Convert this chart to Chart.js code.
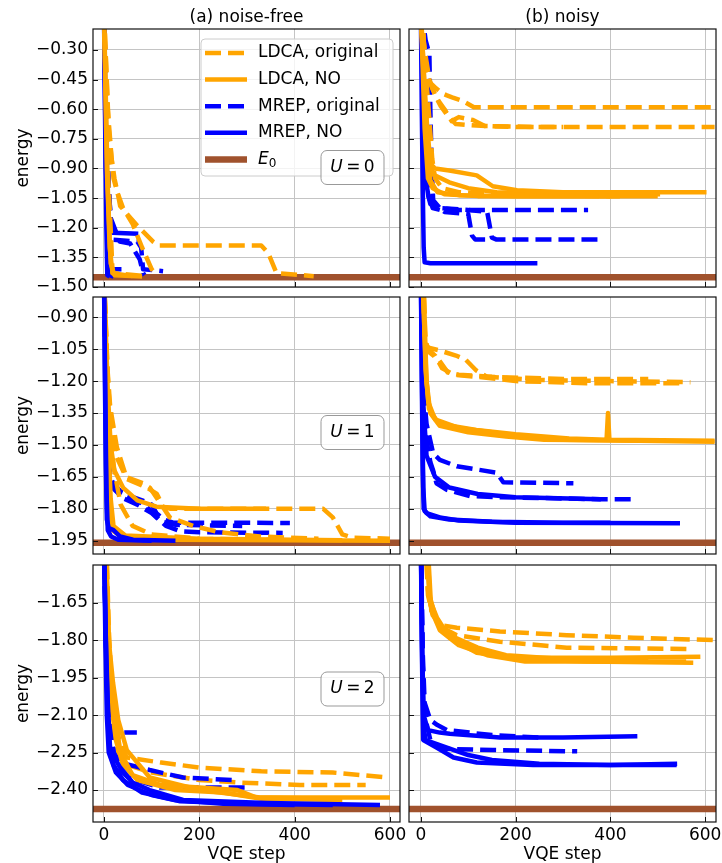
<!DOCTYPE html>
<html>
<head>
<meta charset="utf-8">
<script src="https://cdn.jsdelivr.net/npm/chart.js@4.4.0/dist/chart.umd.min.js"></script>
<style>
html, body { margin: 0; padding: 0; background: #fff; width: 722px; height: 863px; overflow: hidden; }
canvas { position: absolute; }
</style>
</head>
<body>
<canvas id="a0" width="410" height="307" style="left:0;top:0"></canvas>
<canvas id="b0" width="331" height="307" style="left:395px;top:0"></canvas>
<canvas id="a1" width="410" height="297" style="left:0;top:277px"></canvas>
<canvas id="b1" width="331" height="297" style="left:395px;top:277px"></canvas>
<canvas id="a2" width="410" height="328" style="left:0;top:545px"></canvas>
<canvas id="b2" width="331" height="328" style="left:395px;top:545px"></canvas>
<script>
// axis ticks
const stepTicks = [0, 200, 400, 600];
const energyTicksU0 = [-0.30, -0.45, -0.60, -0.75, -0.90, -1.05, -1.20, -1.35, -1.50];
const energyTicksU1 = [-0.90, -1.05, -1.20, -1.35, -1.50, -1.65, -1.80, -1.95];
const energyTicksU2 = [-1.65, -1.80, -1.95, -2.10, -2.25, -2.40];
const groundEnergy = [-1.451, -1.959, -2.476];

// each run is a list of [VQE step, energy]
// (a) noise-free, U = 0
const freeU0LdcaOrig = [
    [[0,-0.1],[8,-0.6],[16,-0.85],[22,-0.95],[30,-1.04],[34,-1.09],[70,-1.19],[103,-1.27],[115,-1.29],[330,-1.29],[345,-1.33],[362,-1.43],[440,-1.445]],
    [[0,-0.1],[10,-0.7],[20,-0.95],[28,-1.02],[40,-1.10],[60,-1.18],[80,-1.30],[100,-1.41],[110,-1.44]],
    [[0,-0.1],[8,-0.9],[14,-1.2],[18,-1.43],[90,-1.445]]
];
const freeU0LdcaNo = [
    [[0,-0.1],[6,-0.9],[12,-1.3],[18,-1.43],[60,-1.445]],
    [[0,-0.1],[8,-1.0],[14,-1.38],[22,-1.44],[80,-1.447]]
];
const freeU0MrepOrig = [
    [[0,-0.1],[8,-0.9],[15,-1.2],[19,-1.26],[70,-1.27],[78,-1.30],[82,-1.41],[124,-1.42]],
    [[0,-0.1],[6,-0.9],[12,-1.2],[14,-1.40],[16,-1.41],[38,-1.41],[50,-1.42]],
    [[0,-0.1],[10,-1.0],[14,-1.15],[22,-1.2],[33,-1.27],[55,-1.28],[75,-1.36],[82,-1.43],[85,-1.44]]
];
const freeU0MrepNo = [
    [[0,-0.1],[3,-0.8],[5,-1.2],[7,-1.44],[12,-1.447]],
    [[0,-0.1],[4,-0.9],[8,-1.1],[12,-1.2],[18,-1.225],[72,-1.23]],
    [[0,-0.1],[6,-1.0],[10,-1.35],[12,-1.44],[20,-1.447]]
];

// (b) noisy, U = 0
const noisyU0LdcaOrig = [
    [[2,-0.1],[8,-0.35],[17,-0.46],[30,-0.49],[45,-0.52],[55,-0.53],[66,-0.54],[90,-0.56],[112,-0.59],[615,-0.59]],
    [[0,-0.1],[8,-0.3],[18,-0.45],[30,-0.53],[42,-0.585],[59,-0.64],[74,-0.675],[100,-0.68],[137,-0.685],[250,-0.69],[620,-0.69]],
    [[0,-0.1],[12,-0.42],[25,-0.5],[38,-0.56],[50,-0.6],[65,-0.66],[80,-0.64],[110,-0.655],[135,-0.685],[200,-0.69],[300,-0.69]],
    [[2,-0.1],[10,-0.4],[18,-0.65],[24,-0.85],[30,-0.95],[45,-1.0],[80,-1.02],[200,-1.035],[400,-1.04]]
];
const noisyU0LdcaNo = [
    [[0,-0.1],[8,-0.5],[15,-0.75],[22,-0.88],[30,-0.9],[60,-0.91],[118,-0.935],[152,-0.99],[203,-1.01],[300,-1.02],[603,-1.02]],
    [[0,-0.1],[10,-0.6],[18,-0.85],[26,-0.93],[60,-0.97],[100,-1.0],[160,-1.02],[300,-1.03],[505,-1.03]],
    [[0,-0.1],[8,-0.7],[15,-0.95],[25,-1.0],[50,-1.03],[120,-1.04],[300,-1.04],[500,-1.04]],
    [[0,-0.1],[12,-0.8],[20,-0.96],[35,-1.02],[80,-1.035],[200,-1.04],[420,-1.04]]
];
const noisyU0MrepOrig = [
    [[2,-0.1],[10,-0.25],[18,-0.32],[20,-0.6],[23,-0.9],[26,-1.06],[40,-1.1],[80,-1.11],[353,-1.11]],
    [[2,-0.1],[5,-0.5],[8,-0.8],[12,-1.0],[20,-1.08],[40,-1.1],[100,-1.11],[140,-1.12],[150,-1.25],[160,-1.26],[378,-1.26]],
    [[2,-0.1],[10,-0.6],[18,-0.95],[25,-1.08],[50,-1.12],[100,-1.13],[108,-1.24],[115,-1.26],[150,-1.26]]
];
const noisyU0MrepNo = [
    [[0,-0.1],[2,-0.6],[4,-1.0],[6,-1.3],[8,-1.375],[20,-1.38],[246,-1.38]],
    [[0,-0.1],[5,-0.7],[10,-0.95],[16,-1.04],[25,-1.1],[40,-1.11]]
];

// (a) noise-free, U = 1
const freeU1LdcaOrig = [
    [[0,-0.7],[6,-1.1],[13,-1.32],[27,-1.51],[48,-1.66],[90,-1.70],[111,-1.73],[124,-1.79],[140,-1.80],[460,-1.80],[480,-1.84],[500,-1.92],[520,-1.935],[600,-1.94]],
    [[0,-0.7],[8,-1.2],[15,-1.4],[25,-1.55],[46,-1.65],[82,-1.68],[96,-1.70],[117,-1.77],[138,-1.84],[187,-1.88],[243,-1.91],[327,-1.93],[450,-1.94]],
    [[0,-0.7],[10,-1.3],[20,-1.6],[35,-1.78],[60,-1.88],[100,-1.92],[200,-1.94],[350,-1.945]]
];
const freeU1LdcaNo = [
    [[0,-0.7],[6,-1.3],[10,-1.6],[13,-1.8],[18,-1.9],[35,-1.93],[150,-1.945],[600,-1.95]],
    [[0,-0.7],[8,-1.4],[14,-1.75],[20,-1.88],[45,-1.925],[200,-1.94],[500,-1.948]],
    [[0,-0.7],[8,-1.25],[14,-1.5],[22,-1.62],[40,-1.7],[70,-1.76],[110,-1.79],[200,-1.80],[340,-1.80]]
];
const freeU1MrepOrig = [
    [[0,-0.7],[4,-1.2],[8,-1.5],[12,-1.65],[20,-1.68],[35,-1.72],[55,-1.74],[80,-1.76],[100,-1.78],[110,-1.82],[125,-1.85],[145,-1.865],[390,-1.866]],
    [[0,-0.7],[5,-1.3],[10,-1.6],[18,-1.7],[40,-1.75],[70,-1.78],[100,-1.82],[130,-1.88],[160,-1.905],[200,-1.91],[375,-1.913]],
    [[0,-0.7],[6,-1.45],[12,-1.67],[40,-1.73],[85,-1.78],[120,-1.86],[150,-1.875],[290,-1.88]]
];
const freeU1MrepNo = [
    [[0,-0.7],[2,-1.2],[4,-1.6],[6,-1.85],[10,-1.89],[20,-1.9],[34,-1.93],[61,-1.945],[150,-1.95]],
    [[0,-0.7],[3,-1.3],[5,-1.7],[8,-1.9],[15,-1.93],[30,-1.945],[100,-1.95]]
];

// (b) noisy, U = 1
const noisyU1LdcaOrig = [
    [[5,-0.7],[8,-0.95],[10,-1.04],[38,-1.055],[74,-1.08],[95,-1.10],[117,-1.15],[140,-1.18],[250,-1.195],[400,-1.20],[569,-1.205]],
    [[4,-0.7],[8,-0.98],[15,-1.06],[38,-1.10],[57,-1.16],[80,-1.17],[150,-1.18],[300,-1.19],[480,-1.19]],
    [[5,-0.7],[10,-1.02],[20,-1.06],[30,-1.08],[45,-1.14],[70,-1.17],[120,-1.18],[200,-1.20],[350,-1.21],[560,-1.21]]
];
const noisyU1LdcaNo = [
    [[4,-0.7],[8,-1.0],[12,-1.2],[17,-1.33],[38,-1.40],[117,-1.43],[200,-1.45],[313,-1.47],[392,-1.475],[395,-1.35],[398,-1.475],[620,-1.48]],
    [[4,-0.7],[10,-1.15],[16,-1.3],[30,-1.38],[80,-1.42],[150,-1.44],[200,-1.46],[300,-1.475],[620,-1.485]],
    [[5,-0.7],[12,-1.2],[20,-1.35],[40,-1.41],[100,-1.44],[180,-1.46],[260,-1.475],[500,-1.48]]
];
const noisyU1MrepOrig = [
    [[0,-0.7],[4,-1.1],[8,-1.3],[12,-1.40],[26,-1.54],[40,-1.57],[76,-1.60],[160,-1.63],[174,-1.675],[322,-1.68]],
    [[0,-0.7],[5,-1.2],[10,-1.45],[20,-1.58],[26,-1.62],[33,-1.68],[54,-1.71],[104,-1.74],[167,-1.745],[378,-1.755],[449,-1.755]]
];
const noisyU1MrepNo = [
    [[0,-0.7],[2,-1.2],[4,-1.6],[6,-1.8],[12,-1.82],[40,-1.84],[80,-1.855],[200,-1.865],[547,-1.868]],
    [[0,-0.7],[3,-1.3],[5,-1.7],[8,-1.81],[20,-1.835],[60,-1.85],[150,-1.86],[300,-1.865],[400,-1.865]],
    [[0,-0.7],[5,-1.3],[12,-1.55],[30,-1.65],[60,-1.7],[120,-1.73],[200,-1.745],[380,-1.755]]
];

// (a) noise-free, U = 2
const freeU2LdcaOrig = [
    [[5,-1.4],[10,-1.75],[15,-1.95],[22,-2.1],[32,-2.2],[48,-2.27],[120,-2.29],[200,-2.31],[330,-2.325],[480,-2.33],[596,-2.35]],
    [[4,-1.4],[8,-1.75],[14,-2.0],[20,-2.15],[30,-2.25],[50,-2.3],[100,-2.33],[200,-2.36],[285,-2.37],[411,-2.38],[549,-2.38]]
];
const freeU2LdcaNo = [
    [[3,-1.4],[10,-1.8],[19,-1.97],[30,-2.12],[48,-2.24],[96,-2.35],[201,-2.40],[327,-2.43],[600,-2.43]],
    [[3,-1.4],[8,-1.85],[15,-2.05],[25,-2.2],[40,-2.3],[70,-2.36],[150,-2.40],[250,-2.41],[330,-2.435],[500,-2.44]],
    [[4,-1.4],[12,-1.9],[22,-2.1],[35,-2.25],[60,-2.34],[120,-2.38],[200,-2.39],[280,-2.4],[320,-2.43],[480,-2.435]]
];
const freeU2MrepOrig = [
    [[0,-1.4],[4,-1.8],[8,-2.05],[12,-2.17],[69,-2.17]],
    [[0,-1.4],[5,-1.85],[10,-2.1],[20,-2.25],[34,-2.29],[96,-2.32],[166,-2.35],[270,-2.36]],
    [[0,-1.4],[6,-1.9],[12,-2.15],[25,-2.3],[50,-2.35],[117,-2.39],[306,-2.39]]
];
const freeU2MrepNo = [
    [[0,-1.4],[4,-1.8],[8,-2.05],[13,-2.24],[34,-2.31],[60,-2.37],[96,-2.40],[166,-2.44],[342,-2.452],[579,-2.46]],
    [[0,-1.4],[3,-1.8],[6,-2.1],[10,-2.25],[25,-2.33],[50,-2.38],[100,-2.42],[160,-2.445],[300,-2.455],[480,-2.46]],
    [[0,-1.4],[5,-1.9],[10,-2.2],[20,-2.3],[40,-2.36],[80,-2.41],[150,-2.44],[250,-2.455],[400,-2.46]]
];

// (b) noisy, U = 2
const noisyU2LdcaOrig = [
    [[10,-1.4],[15,-1.6],[22,-1.68],[40,-1.74],[76,-1.75],[167,-1.765],[308,-1.78],[449,-1.79],[623,-1.80]],
    [[10,-1.4],[15,-1.62],[25,-1.7],[45,-1.75],[76,-1.78],[167,-1.806],[308,-1.83],[569,-1.835]]
];
const noisyU2LdcaNo = [
    [[12,-1.4],[19,-1.64],[34,-1.71],[61,-1.79],[118,-1.85],[203,-1.87],[400,-1.87],[590,-1.866]],
    [[12,-1.4],[18,-1.62],[30,-1.7],[50,-1.77],[100,-1.82],[150,-1.85],[200,-1.875],[350,-1.885],[575,-1.89]],
    [[13,-1.4],[20,-1.66],[35,-1.73],[60,-1.78],[120,-1.83],[180,-1.86],[300,-1.875],[480,-1.88]],
    [[14,-1.4],[22,-1.68],[40,-1.76],[80,-1.82],[140,-1.86],[220,-1.885],[400,-1.885],[560,-1.885]]
];
const noisyU2MrepOrig = [
    [[0,-1.4],[4,-1.9],[8,-2.1],[20,-2.2],[47,-2.235],[152,-2.24],[330,-2.245]],
    [[0,-1.4],[4,-1.85],[8,-2.05],[20,-2.12],[35,-2.14],[55,-2.16],[150,-2.18],[250,-2.19]]
];
const noisyU2MrepNo = [
    [[0,-1.4],[2,-1.8],[4,-2.1],[5,-2.2],[33,-2.23],[69,-2.27],[118,-2.29],[237,-2.30],[400,-2.30],[541,-2.295]],
    [[0,-1.4],[3,-1.85],[6,-2.1],[15,-2.16],[40,-2.17],[61,-2.175],[167,-2.19],[300,-2.19],[457,-2.185]],
    [[0,-1.4],[3,-1.9],[6,-2.15],[10,-2.2],[40,-2.22],[100,-2.26],[150,-2.28],[250,-2.295],[400,-2.30],[540,-2.30]]
];

const FONT = '"DejaVu Sans", sans-serif';
const ORANGE = '#ffa500';
const BLUE = '#0000ff';
const SIENNA = '#a0522d';
const DASH = [16, 7];

const styles = {
    ldcaOrig: { color: ORANGE, dash: DASH },
    ldcaNo:   { color: ORANGE, dash: [] },
    mrepOrig: { color: BLUE, dash: DASH },
    mrepNo:   { color: BLUE, dash: [] }
};

function lineSet(run, color, dash, width) {
    return {
        data: run.map(p => ({ x: p[0], y: p[1] })),
        borderColor: color,
        borderWidth: width,
        borderDash: dash,
        borderCapStyle: 'butt',
        borderJoinStyle: 'round',
        pointRadius: 0,
        tension: 0,
        fill: false,
        clip: 0
    };
}

function fmtEnergy(v) {
    return v.toFixed(2).replace('-', '\u2212');
}

// frame, inward ticks, titles, legend and U box
const decorPlugin = {
    id: 'decor',
    afterDatasetsDraw(chart) {
        const { ctx, chartArea: a, scales } = chart;
        ctx.save();
        ctx.strokeStyle = '#111';
        ctx.lineWidth = 1;
        ctx.beginPath();
        scales.y.ticks.forEach(t => {
            const p = Math.round(scales.y.getPixelForValue(t.value)) + 0.5;
            ctx.moveTo(a.left, p); ctx.lineTo(a.left + 5, p);
        });
        scales.x.ticks.forEach(t => {
            const p = Math.round(scales.x.getPixelForValue(t.value)) + 0.5;
            ctx.moveTo(p, a.bottom); ctx.lineTo(p, a.bottom - 5);
        });
        ctx.stroke();
        ctx.lineWidth = 1.2;
        ctx.strokeRect(a.left, a.top, a.right - a.left, a.bottom - a.top);
        ctx.restore();
    },
    afterDraw(chart, args, opts) {
        const { ctx, chartArea: a } = chart;
        ctx.save();
        ctx.fillStyle = '#000';
        ctx.textBaseline = 'middle';
        if (opts.title) {
            ctx.font = '17px ' + FONT;
            ctx.textAlign = 'center';
            ctx.fillText(opts.title, (a.left + a.right) / 2, a.top - 11);
        }
        if (opts.legend) drawLegend(ctx, a);
        if (opts.u !== undefined) {
            const cx = a.right + opts.uBox[0], cy = a.top + opts.uBox[1];
            roundRect(ctx, cx - 31.5, cy - 17, 63, 34, 6);
            ctx.fillStyle = 'rgba(255,255,255,0.8)';
            ctx.fill();
            ctx.strokeStyle = '#999';
            ctx.lineWidth = 1;
            ctx.stroke();
            ctx.fillStyle = '#000';
            ctx.textBaseline = 'middle';
            ctx.font = 'italic 17px ' + FONT;
            const wU = ctx.measureText('U').width;
            ctx.font = '17px ' + FONT;
            const rest = '\u2009=\u2009' + opts.u;
            const wR = ctx.measureText(rest).width;
            const x0 = cx - (wU + wR) / 2;
            ctx.textAlign = 'left';
            ctx.font = 'italic 17px ' + FONT;
            ctx.fillText('U', x0, cy);
            ctx.font = '17px ' + FONT;
            ctx.fillText(rest, x0 + wU, cy);
        }
        ctx.restore();
    }
};

function roundRect(ctx, x, y, w, h, r) {
    ctx.beginPath();
    ctx.moveTo(x + r, y);
    ctx.arcTo(x + w, y, x + w, y + h, r);
    ctx.arcTo(x + w, y + h, x, y + h, r);
    ctx.arcTo(x, y + h, x, y, r);
    ctx.arcTo(x, y, x + w, y, r);
    ctx.closePath();
}

function drawLegend(ctx, a) {
    const w = 192, h = 137;
    const x = a.right - 7 - w, y = a.top + 10;
    roundRect(ctx, x, y, w, h, 4);
    ctx.fillStyle = 'rgba(255,255,255,0.8)';
    ctx.fill();
    ctx.strokeStyle = '#cccccc';
    ctx.lineWidth = 1;
    ctx.stroke();
    const entries = [
        ['LDCA, original', styles.ldcaOrig.color, styles.ldcaOrig.dash, 4.5],
        ['LDCA, NO', styles.ldcaNo.color, [], 4.5],
        ['MREP, original', styles.mrepOrig.color, styles.mrepOrig.dash, 4.5],
        ['MREP, NO', styles.mrepNo.color, [], 4.5],
        ['E0', SIENNA, [], 6.5]
    ];
    entries.forEach((e, i) => {
        const ly = y + 14 + 26.6 * i;
        ctx.beginPath();
        ctx.setLineDash(e[2]);
        ctx.lineCap = 'butt';
        ctx.strokeStyle = e[1];
        ctx.lineWidth = e[3];
        ctx.moveTo(x + 4, ly);
        ctx.lineTo(x + 46, ly);
        ctx.stroke();
        ctx.setLineDash([]);
        ctx.fillStyle = '#000';
        ctx.textAlign = 'left';
        ctx.textBaseline = 'middle';
        if (e[0] === 'E0') {
            ctx.font = 'italic 17px ' + FONT;
            ctx.fillText('E', x + 57, ly);
            const wE = ctx.measureText('E').width;
            ctx.font = '12px ' + FONT;
            ctx.fillText('0', x + 57 + wE, ly + 4);
        } else {
            ctx.font = '17px ' + FONT;
            ctx.fillText(e[0], x + 57, ly);
        }
    });
}

const panels = [
    { id: 'a0', row: 0, col: 0, runs: { ldcaOrig: freeU0LdcaOrig, ldcaNo: freeU0LdcaNo, mrepOrig: freeU0MrepOrig, mrepNo: freeU0MrepNo },
      order: ['ldcaNo', 'ldcaOrig', 'mrepOrig', 'mrepNo'], ticks: energyTicksU0, yMin: -1.50, yMax: -0.194,
      title: '(a) noise-free', legend: true, u: '0', uBox: [-47.5, 138.5] },
    { id: 'b0', row: 0, col: 1, runs: { ldcaOrig: noisyU0LdcaOrig, ldcaNo: noisyU0LdcaNo, mrepOrig: noisyU0MrepOrig, mrepNo: noisyU0MrepNo },
      order: ['ldcaOrig', 'ldcaNo', 'mrepOrig', 'mrepNo'], ticks: energyTicksU0, yMin: -1.50, yMax: -0.194,
      title: '(b) noisy' },
    { id: 'a1', row: 1, col: 0, runs: { ldcaOrig: freeU1LdcaOrig, ldcaNo: freeU1LdcaNo, mrepOrig: freeU1MrepOrig, mrepNo: freeU1MrepNo },
      order: ['mrepNo', 'ldcaOrig', 'ldcaNo', 'mrepOrig'], ticks: energyTicksU1, yMin: -2.012, yMax: -0.805,
      u: '1', uBox: [-47.5, 135.5] },
    { id: 'b1', row: 1, col: 1, runs: { ldcaOrig: noisyU1LdcaOrig, ldcaNo: noisyU1LdcaNo, mrepOrig: noisyU1MrepOrig, mrepNo: noisyU1MrepNo },
      order: ['ldcaOrig', 'ldcaNo', 'mrepOrig', 'mrepNo'], ticks: energyTicksU1, yMin: -2.012, yMax: -0.805 },
    { id: 'a2', row: 2, col: 0, runs: { ldcaOrig: freeU2LdcaOrig, ldcaNo: freeU2LdcaNo, mrepOrig: freeU2MrepOrig, mrepNo: freeU2MrepNo },
      order: ['mrepNo', 'ldcaNo', 'mrepOrig', 'ldcaOrig'], ticks: energyTicksU2, yMin: -2.528, yMax: -1.499,
      u: '2', uBox: [-47.5, 124] },
    { id: 'b2', row: 2, col: 1, runs: { ldcaOrig: noisyU2LdcaOrig, ldcaNo: noisyU2LdcaNo, mrepOrig: noisyU2MrepOrig, mrepNo: noisyU2MrepNo },
      order: ['ldcaOrig', 'ldcaNo', 'mrepOrig', 'mrepNo'], ticks: energyTicksU2, yMin: -2.528, yMax: -1.499 }
];

function buildPanel(p) {
    const left = p.col === 0;
    const bottomRow = p.row === 2;
    const xMin = left ? -23 : -25;
    const xMax = left ? 621 : 623;
    const datasets = [];
    p.order.forEach(key => {
        p.runs[key].forEach(run => datasets.push(lineSet(run, styles[key].color, styles[key].dash, 4.5)));
    });
    const e0 = groundEnergy[p.row];
    datasets.push(lineSet([[xMin, e0], [xMax, e0]], SIENNA, [], 6.5));

    const padTop = p.row === 0 ? 29 : 20;
    const padBottom = bottomRow ? 0 : 20;

    new Chart(document.getElementById(p.id), {
        type: 'line',
        data: { datasets: datasets },
        options: {
            responsive: false,
            animation: false,
            events: [],
            layout: { padding: { left: left ? 0 : 14, right: 10, top: padTop, bottom: padBottom } },
            plugins: {
                legend: { display: false },
                tooltip: { enabled: false },
                decor: { title: p.title, legend: p.legend, u: p.u, uBox: p.uBox }
            },
            scales: {
                x: {
                    type: 'linear',
                    min: xMin,
                    max: xMax,
                    afterBuildTicks: s => { s.ticks = stepTicks.map(v => ({ value: v })); },
                    afterFit: s => { s.height = bottomRow ? 51 : 0; },
                    grid: { color: '#c4c4c4', lineWidth: 1, drawTicks: false },
                    border: { display: false },
                    ticks: {
                        display: bottomRow,
                        padding: 3,
                        color: '#000',
                        font: { family: FONT, size: 17 },
                        maxRotation: 0,
                        autoSkip: false,
                        callback: v => String(v)
                    },
                    title: {
                        display: bottomRow,
                        text: 'VQE step',
                        color: '#000',
                        font: { family: FONT, size: 17 },
                        padding: { top: 0, bottom: 8 }
                    }
                },
                y: {
                    type: 'linear',
                    min: p.yMin,
                    max: p.yMax,
                    afterBuildTicks: s => { s.ticks = p.ticks.map(v => ({ value: v })); },
                    afterFit: s => { s.width = left ? 93 : 0; },
                    grid: { color: '#c4c4c4', lineWidth: 1, drawTicks: false },
                    border: { display: false },
                    ticks: {
                        display: left,
                        padding: 5,
                        color: '#000',
                        font: { family: FONT, size: 17 },
                        autoSkip: false,
                        callback: v => fmtEnergy(v)
                    },
                    title: {
                        display: left,
                        text: 'energy',
                        color: '#000',
                        font: { family: FONT, size: 17 },
                        padding: { top: 13, bottom: 0 }
                    }
                }
            }
        },
        plugins: [decorPlugin]
    });
}

panels.forEach(buildPanel);
</script>
</body>
</html>
